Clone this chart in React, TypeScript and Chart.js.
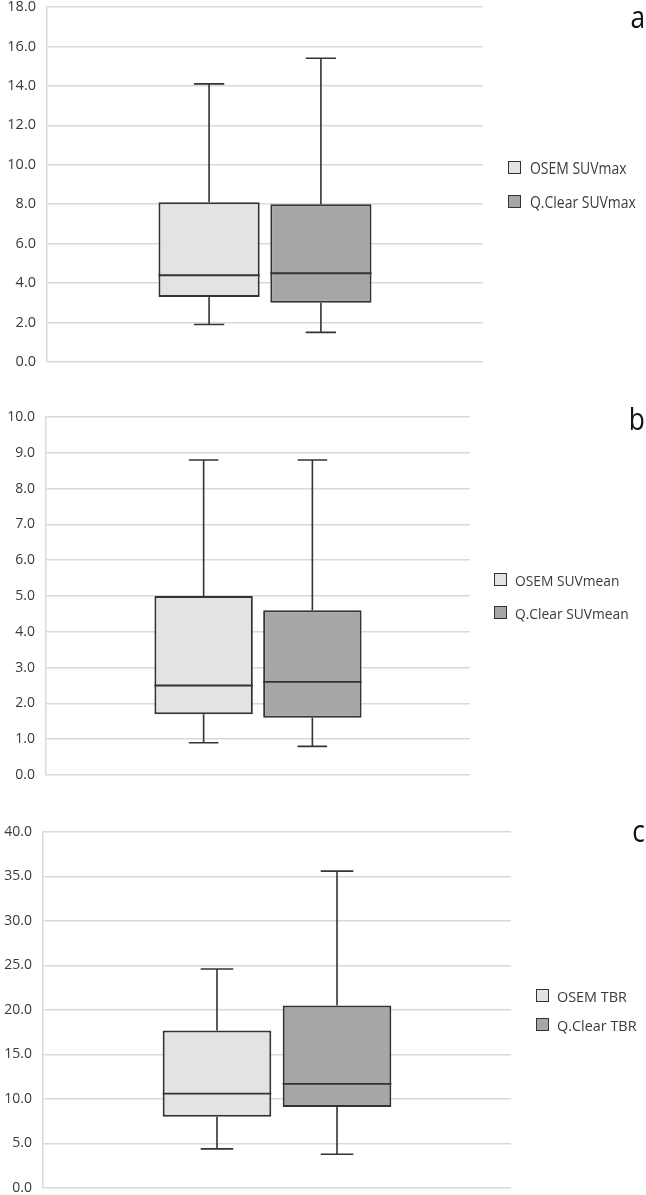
import React, { useEffect, useRef } from "react";
import { Chart, registerables } from "chart.js";

Chart.register(...registerables);

// ---- data (five-number summaries: [min, q1, median, q3, max]) ----
const categories = [""];
const panelLetters = ["a", "b", "c"];
const seriesNamesA = ["OSEM SUVmax", "Q.Clear SUVmax"];
const seriesNamesB = ["OSEM SUVmean", "Q.Clear SUVmean"];
const seriesNamesC = ["OSEM TBR", "Q.Clear TBR"];
const osemSUVmax = [1.9, 3.3, 4.4, 8.1, 14.1];
const qclearSUVmax = [1.5, 3.0, 4.5, 8.0, 15.4];
const osemSUVmean = [0.9, 1.7, 2.5, 5.0, 8.8];
const qclearSUVmean = [0.8, 1.6, 2.6, 4.6, 8.8];
const osemTBR = [4.4, 8.0, 10.6, 17.7, 24.6];
const qclearTBR = [3.8, 9.1, 11.7, 20.5, 35.6];
const axisMax = [18, 10, 40];
const axisStep = [2, 1, 5];

const LIGHT = "#e3e3e3";
const DARK = "#a6a6a6";
const EDGE = "#333333";
const GRID = "#d9d9d9";
const TEXT = "#3a3a3a";
const FONT = "'Open Sans', 'Noto Sans', sans-serif";

type Panel = {
  letter: string;
  names: string[];
  stats: number[][];
  max: number;
  step: number;
  top: number;
  height: number;
  left: number;
  right: number;
  padTop: number;
  padBottom: number;
  tickSize: number;
  legendSquareX: number;
  legendTextX: number;
  legendY: number[];
  legendSize: number;
  legendScale: number;
  letterTop: number;
};

const panels: Panel[] = [
  {
    letter: panelLetters[0], names: seriesNamesA, stats: [osemSUVmax, qclearSUVmax],
    max: axisMax[0], step: axisStep[0], top: 0, height: 380, left: 47, right: 483,
    padTop: 7, padBottom: 18, tickSize: 14.5,
    legendSquareX: 508, legendTextX: 530, legendY: [168, 202], legendSize: 15.5, legendScale: 0.9, letterTop: -4,
  },
  {
    letter: panelLetters[1], names: seriesNamesB, stats: [osemSUVmean, qclearSUVmean],
    max: axisMax[1], step: axisStep[1], top: 380, height: 410, left: 46, right: 470,
    padTop: 37, padBottom: 15, tickSize: 14,
    legendSquareX: 494, legendTextX: 515, legendY: [580, 613], legendSize: 15, legendScale: 0.92, letterTop: 398,
  },
  {
    letter: panelLetters[2], names: seriesNamesC, stats: [osemTBR, qclearTBR],
    max: axisMax[2], step: axisStep[2], top: 790, height: 405, left: 43, right: 511,
    padTop: 42, padBottom: 7, tickSize: 14,
    legendSquareX: 536, legendTextX: 557, legendY: [996, 1025], legendSize: 15, legendScale: 0.96, letterTop: 810,
  },
];

const boxPlugin = {
  id: "boxWhisker",
  afterDatasetsDraw(chart: any) {
    const ctx = chart.ctx;
    const ys = chart.scales.y;
    chart.data.datasets.forEach((ds: any, i: number) => {
      const meta = chart.getDatasetMeta(i);
      const s = ds.stats as number[];
      meta.data.forEach((bar: any) => {
        const { x, width } = bar.getProps(["x", "width"], true);
        const l = x - width / 2;
        const r = x + width / 2;
        const yMin = ys.getPixelForValue(s[0]);
        const yQ1 = ys.getPixelForValue(s[1]);
        const yMed = ys.getPixelForValue(s[2]);
        const yQ3 = ys.getPixelForValue(s[3]);
        const yMax = ys.getPixelForValue(s[4]);
        const cw = (width * 0.3) / 2;
        ctx.save();
        ctx.strokeStyle = EDGE;
        ctx.lineWidth = 1.6;
        ctx.beginPath();
        ctx.moveTo(x, yQ3);
        ctx.lineTo(x, yMax);
        ctx.moveTo(x - cw, yMax);
        ctx.lineTo(x + cw, yMax);
        ctx.moveTo(x, yQ1);
        ctx.lineTo(x, yMin);
        ctx.moveTo(x - cw, yMin);
        ctx.lineTo(x + cw, yMin);
        ctx.stroke();
        ctx.beginPath();
        ctx.lineWidth = 1.9;
        ctx.moveTo(l, yMed);
        ctx.lineTo(r, yMed);
        ctx.stroke();
        ctx.restore();
      });
    });
  },
};

function BoxPanel({ p }: { p: Panel }) {
  const ref = useRef<HTMLCanvasElement | null>(null);
  useEffect(() => {
    if (!ref.current) return;
    const chart = new Chart(ref.current, {
      type: "bar",
      data: {
        labels: categories,
        datasets: p.stats.map((s, i) => ({
          label: p.names[i],
          data: [[s[1], s[3]]],
          stats: s,
          backgroundColor: i === 0 ? LIGHT : DARK,
          borderColor: EDGE,
          borderWidth: 2,
          borderSkipped: false,
          barPercentage: 0.905,
          categoryPercentage: 0.513,
        })) as any,
      },
      options: {
        responsive: false,
        animation: false,
        devicePixelRatio: 1,
        layout: {
          padding: { top: p.padTop, bottom: p.padBottom, left: 0, right: 646 - p.right },
        },
        plugins: { legend: { display: false }, tooltip: { enabled: false }, title: { display: false } },
        scales: {
          x: { type: "category", display: false, offset: true },
          y: {
            type: "linear",
            min: 0,
            max: p.max,
            grid: { color: GRID, lineWidth: 1.5, drawTicks: false },
            border: { display: true, color: GRID, width: 1.5 },
            ticks: {
              stepSize: p.step,
              padding: 11,
              color: TEXT,
              font: { family: FONT, size: p.tickSize },
              callback: (v: any) => Number(v).toFixed(1),
            },
            afterFit: (scale: any) => {
              scale.width = p.left;
              scale.paddingTop = 0;
              scale.paddingBottom = 0;
            },
          },
        },
      },
      plugins: [boxPlugin],
    } as any);
    return () => chart.destroy();
  }, [p]);
  return (
    <canvas
      ref={ref}
      width={646}
      height={p.height}
      style={{ position: "absolute", left: 0, top: p.top, width: 646, height: p.height }}
    />
  );
}

function Legend({ p }: { p: Panel }) {
  return (
    <>
      {p.names.map((n, i) => (
        <div key={n}>
          <div
            style={{
              position: "absolute",
              left: p.legendSquareX,
              top: p.legendY[i] - 7,
              width: 11,
              height: 11,
              background: i === 0 ? LIGHT : DARK,
              border: `1.5px solid ${EDGE}`,
            }}
          />
          <div
            style={{
              position: "absolute",
              left: p.legendTextX,
              top: p.legendY[i] - 12,
              height: 24,
              lineHeight: "24px",
              fontFamily: FONT,
              fontSize: p.legendSize,
              color: TEXT,
              whiteSpace: "nowrap",
              transform: `scaleX(${p.legendScale})`,
              transformOrigin: "left center",
            }}
          >
            {n}
          </div>
        </div>
      ))}
      <div
        style={{
          position: "absolute",
          right: 1,
          top: p.letterTop,
          fontFamily: FONT,
          fontSize: 31,
          lineHeight: "40px",
          color: "#111",
          transform: "scaleX(0.85)",
          transformOrigin: "right center",
        }}
      >
        {p.letter}
      </div>
    </>
  );
}

export default function App() {
  return (
    <div
      style={{
        position: "absolute",
        left: 0,
        top: 0,
        width: 646,
        height: 1195,
        background: "#fff",
        overflow: "hidden",
      }}
    >
      {panels.map((p) => (
        <React.Fragment key={p.letter}>
          <BoxPanel p={p} />
          <Legend p={p} />
        </React.Fragment>
      ))}
    </div>
  );
}
